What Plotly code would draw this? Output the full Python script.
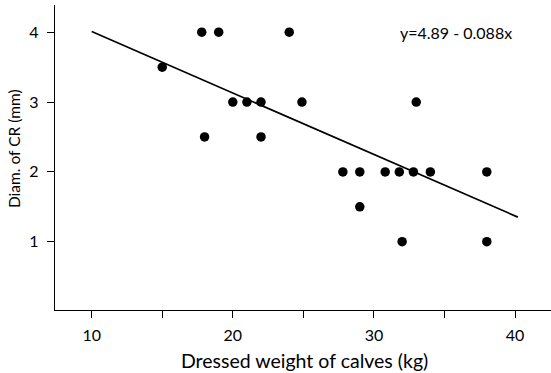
import plotly.graph_objects as go

# Data
weight = [15, 17.8, 19, 18, 20, 21, 22, 22, 24, 24.9, 33,
          27.8, 29, 30.8, 31.8, 32.8, 34, 38, 29, 32, 38]
diam = [3.5, 4, 4, 2.5, 3, 3, 3, 2.5, 4, 3, 3,
        2, 2, 2, 2, 2, 2, 2, 1.5, 1, 1]
intercept = 4.89
slope = -0.088
fit_x = [10, 40.2]
fit_y = [intercept + slope * v for v in fit_x]
x_ticks = [10, 20, 30, 40]
x_minor = [15, 25, 35]
y_ticks = [1, 2, 3, 4]
equation = "y=4.89 - 0.088x"
x_title = "Dressed weight of calves (kg)"
y_title = "Diam. of CR (mm)"

font = "Lato, 'Open Sans', sans-serif"

fig = go.Figure()
fig.add_trace(go.Scatter(x=fit_x, y=fit_y, mode="lines",
                         line=dict(color="black", width=1.7), hoverinfo="skip"))
fig.add_trace(go.Scatter(x=weight, y=diam, mode="markers",
                         marker=dict(color="black", size=9.5)))

fig.add_annotation(x=35.8, y=4, text=equation, showarrow=False,
                   font=dict(family=font, size=16, color="black"),
                   xanchor="center", yanchor="middle")
fig.add_annotation(xref="paper", yref="paper", x=0.503, y=-0.164,
                   text=x_title, showarrow=False,
                   font=dict(family=font, size=19.5, color="black"),
                   xanchor="center", yanchor="middle")
fig.add_annotation(xref="paper", yref="paper", x=-0.0827, y=0.531,
                   text=y_title, showarrow=False, textangle=-90,
                   font=dict(family=font, size=15.5, color="black"),
                   xanchor="center", yanchor="middle")

fig.update_layout(
    width=551, height=373,
    margin=dict(l=55, r=0, t=5, b=63),
    paper_bgcolor="white", plot_bgcolor="white",
    showlegend=False,
    font=dict(family=font, color="black"),
    xaxis=dict(range=[7.4, 42.55], tickvals=x_ticks, ticks="outside",
               ticklen=7, tickwidth=1.2, tickcolor="black",
               ticklabelstandoff=4,
               showline=True, linecolor="black", linewidth=1.3,
               showgrid=False, zeroline=False,
               minor=dict(tickvals=x_minor, ticks="outside", ticklen=7,
                          tickcolor="black", tickwidth=1.2),
               tickfont=dict(size=16, family=font)),
    yaxis=dict(range=[0.022, 4.39], tickvals=y_ticks, ticks="outside",
               ticklen=7, tickwidth=1.2, tickcolor="black",
               ticklabelstandoff=5,
               showline=True, linecolor="black", linewidth=1.3,
               showgrid=False, zeroline=False,
               tickfont=dict(size=16, family=font)),
)

fig.write_html("out.html")
